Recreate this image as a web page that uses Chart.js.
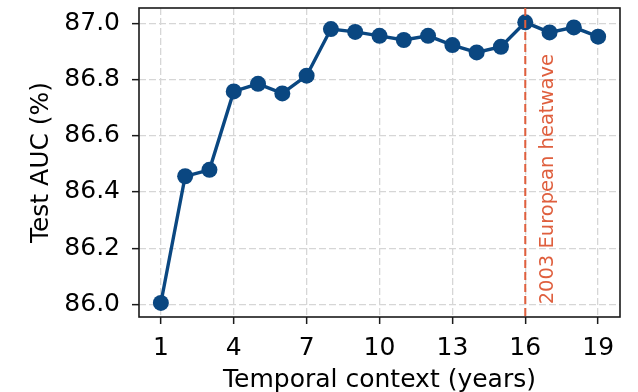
<!DOCTYPE html>
<html lang="en">
<head>
  <meta charset="UTF-8">
  <title>Test AUC vs temporal context</title>
  <script src="https://cdn.jsdelivr.net/npm/chart.js"></script>
  <style>
    body {
      margin: 0;
      background: white;
    }
    canvas {
      display: block;
    }
  </style>
</head>
<body>

  <canvas id="aucChart" width="638" height="392"></canvas>

  <script>
    // data
    const contextYears = [1, 2, 3, 4, 5, 6, 7, 8, 9, 10, 11, 12, 13, 14, 15, 16, 17, 18, 19];
    const testAuc = [
      86.005, 86.456, 86.479, 86.758, 86.785, 86.751, 86.814,
      86.980, 86.970, 86.956, 86.941, 86.956, 86.923, 86.897,
      86.917, 87.004, 86.968, 86.986, 86.953
    ];
    const xTicks = [1, 4, 7, 10, 13, 16, 19];
    const yTicks = [86.0, 86.2, 86.4, 86.6, 86.8, 87.0];
    const heatwaveYear = 16;
    const heatwaveLabel = '2003 European heatwave';

    const blue = '#0a4781';
    const red = '#df5f3e';
    const font = 'DejaVu Sans';

    // box around the plot + the heatwave marker
    const framePlugin = {
      id: 'frame',
      beforeDatasetsDraw(chart) {
        const { ctx, chartArea: a } = chart;
        ctx.save();
        ctx.strokeStyle = '#1a1a1a';
        ctx.lineWidth = 1.6;
        ctx.strokeRect(a.left, a.top, a.right - a.left, a.bottom - a.top);
        ctx.restore();
      },
      afterDatasetsDraw(chart) {
        const { ctx, chartArea: a, scales } = chart;
        const x = scales.x.getPixelForValue(heatwaveYear);
        ctx.save();
        ctx.strokeStyle = red;
        ctx.lineWidth = 2;
        ctx.setLineDash([8, 4]);
        ctx.beginPath();
        ctx.moveTo(x, a.top);
        ctx.lineTo(x, a.bottom);
        ctx.stroke();
        ctx.setLineDash([]);
        ctx.translate(x + 28, scales.y.getPixelForValue(86.0));
        ctx.rotate(-Math.PI / 2);
        ctx.fillStyle = red;
        ctx.font = '19.5px "' + font + '"';
        ctx.textAlign = 'left';
        ctx.textBaseline = 'alphabetic';
        ctx.fillText(heatwaveLabel, 0, 0);
        ctx.restore();
      }
    };

    function noPad(scale) {
      scale.paddingTop = 0;
      scale.paddingBottom = 0;
      scale.paddingLeft = 0;
      scale.paddingRight = 0;
    }

    new Chart(document.getElementById('aucChart'), {
      type: 'line',
      data: {
        datasets: [{
          data: contextYears.map((yr, i) => ({ x: yr, y: testAuc[i] })),
          borderColor: blue,
          backgroundColor: blue,
          borderWidth: 3.4,
          pointRadius: 8,
          pointBorderWidth: 0,
          tension: 0
        }]
      },
      options: {
        responsive: false,
        animation: false,
        layout: { padding: { top: 7, right: 18, left: 0, bottom: 0 } },
        plugins: {
          legend: { display: false },
          tooltip: { enabled: false }
        },
        scales: {
          x: {
            type: 'linear',
            min: 0.1,
            max: 19.9,
            afterBuildTicks: s => { s.ticks = xTicks.map(v => ({ value: v })); },
            afterFit: s => { s.height = 75; noPad(s); },
            ticks: {
              color: '#000',
              font: { family: font, size: 25 },
              padding: 9,
              maxRotation: 0
            },
            grid: {
              color: '#d6d6d6',
              lineWidth: 1.3,
              tickColor: '#1a1a1a',
              tickLength: 7,
              tickWidth: 1.5,
              tickBorderDash: []
            },
            border: { display: false, dash: [7, 3] },
            title: {
              display: true,
              text: 'Temporal context (years)',
              color: '#000',
              font: { family: font, size: 25, lineHeight: 0.89 },
              padding: { top: 0, bottom: 0 }
            }
          },
          y: {
            min: 85.955,
            max: 87.055,
            afterBuildTicks: s => { s.ticks = yTicks.map(v => ({ value: v })); },
            afterFit: s => { s.width = 139; noPad(s); },
            ticks: {
              color: '#000',
              font: { family: font, size: 25 },
              padding: 12,
              callback: v => v.toFixed(1)
            },
            grid: {
              color: '#d6d6d6',
              lineWidth: 1.3,
              tickColor: '#1a1a1a',
              tickLength: 7,
              tickWidth: 1.5,
              tickBorderDash: []
            },
            border: { display: false, dash: [7, 3] },
            title: {
              display: true,
              text: 'Test AUC (%)',
              color: '#000',
              font: { family: font, size: 25, lineHeight: 0.89 },
              padding: { top: 30, bottom: 0 }
            }
          }
        }
      },
      plugins: [framePlugin]
    });
  </script>
</body>
</html>
